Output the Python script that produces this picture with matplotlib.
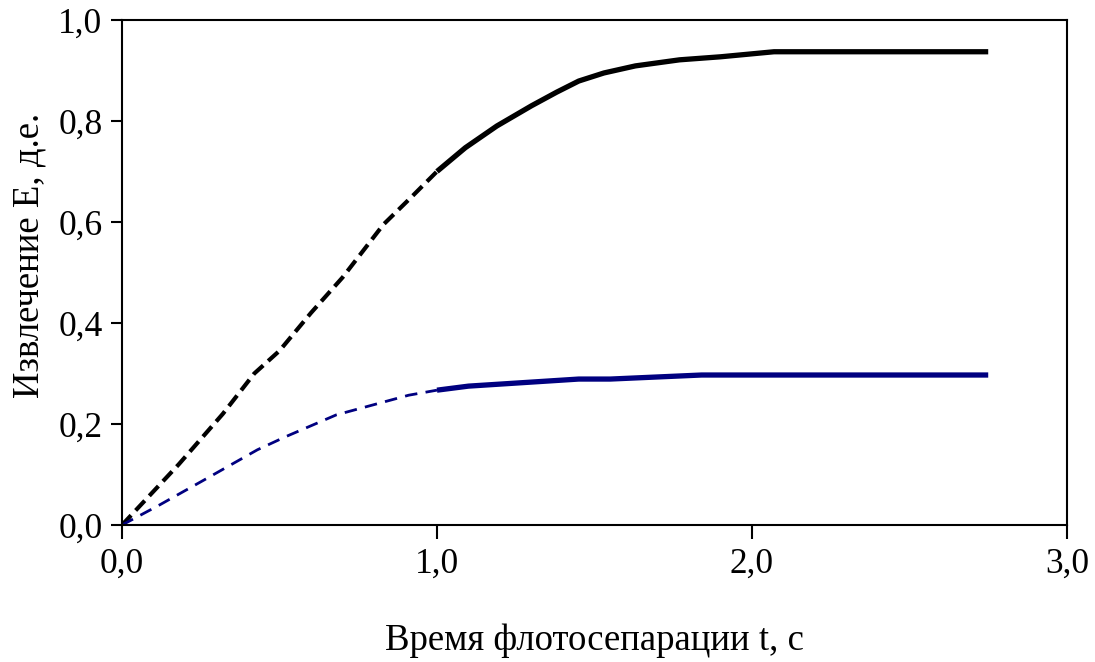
import numpy as np
import matplotlib
matplotlib.use("Agg")
import matplotlib.pyplot as plt
from matplotlib.ticker import FuncFormatter

# black curve, dashed part (0..1 s) and solid part (1..2.75 s)
t_black_dash = [0.0, 0.18, 0.32, 0.42, 0.50, 0.60, 0.70, 0.83, 0.92, 1.0]
e_black_dash = [0.0, 0.12, 0.22, 0.30, 0.345, 0.42, 0.49, 0.595, 0.65, 0.70]
t_black = [1.0, 1.09, 1.19, 1.30, 1.38, 1.45, 1.53, 1.63, 1.77, 1.90, 2.07, 2.75]
e_black = [0.70, 0.747, 0.79, 0.83, 0.857, 0.879, 0.895, 0.909, 0.921, 0.927, 0.937, 0.937]

# blue curve
t_blue_dash = [0.0, 0.12, 0.26, 0.43, 0.52, 0.68, 0.91, 1.0]
e_blue_dash = [0.0, 0.04, 0.089, 0.149, 0.175, 0.218, 0.257, 0.267]
t_blue = [1.0, 1.1, 1.45, 1.55, 1.84, 2.75]
e_blue = [0.267, 0.275, 0.289, 0.289, 0.297, 0.297]

plt.rcParams['font.family'] = ['Liberation Serif', 'DejaVu Serif']

fig = plt.figure(figsize=(10.95, 6.62), dpi=100)
ax = fig.add_axes([0.1114, 0.2069, 0.863, 0.763])

navy = '#000080'
ax.plot(t_black_dash, e_black_dash, color='black', lw=3.0, dashes=(3.2, 1.6))
ax.plot(t_black, e_black, color='black', lw=3.8, solid_capstyle='butt')
ax.plot(t_blue_dash, e_blue_dash, color=navy, lw=2.0, dashes=(4.5, 3))
ax.plot(t_blue, e_blue, color=navy, lw=3.8, solid_capstyle='butt')

ax.set_xlim(0, 3)
ax.set_ylim(0, 1)
ax.set_xticks([0, 1, 2, 3])
ax.set_yticks([0, 0.2, 0.4, 0.6, 0.8, 1.0])
comma = FuncFormatter(lambda v, p: ('%.1f' % v).replace('.', ','))
ax.xaxis.set_major_formatter(comma)
ax.yaxis.set_major_formatter(comma)
ax.tick_params(axis='x', direction='out', length=10, width=1.5, pad=6, labelsize=25.5)
ax.tick_params(axis='y', direction='out', length=8, width=1.5, pad=6, labelsize=25.5)
for s in ax.spines.values():
    s.set_linewidth(1.5)

ax.set_xlabel('Время флотосепарации t, с', fontsize=26.5, labelpad=31)
ax.set_ylabel('Извлечение Е, д.е.', fontsize=26.5)
ax.yaxis.set_label_coords(-0.08, 0.533)

fig.savefig('out.png', dpi=100)
